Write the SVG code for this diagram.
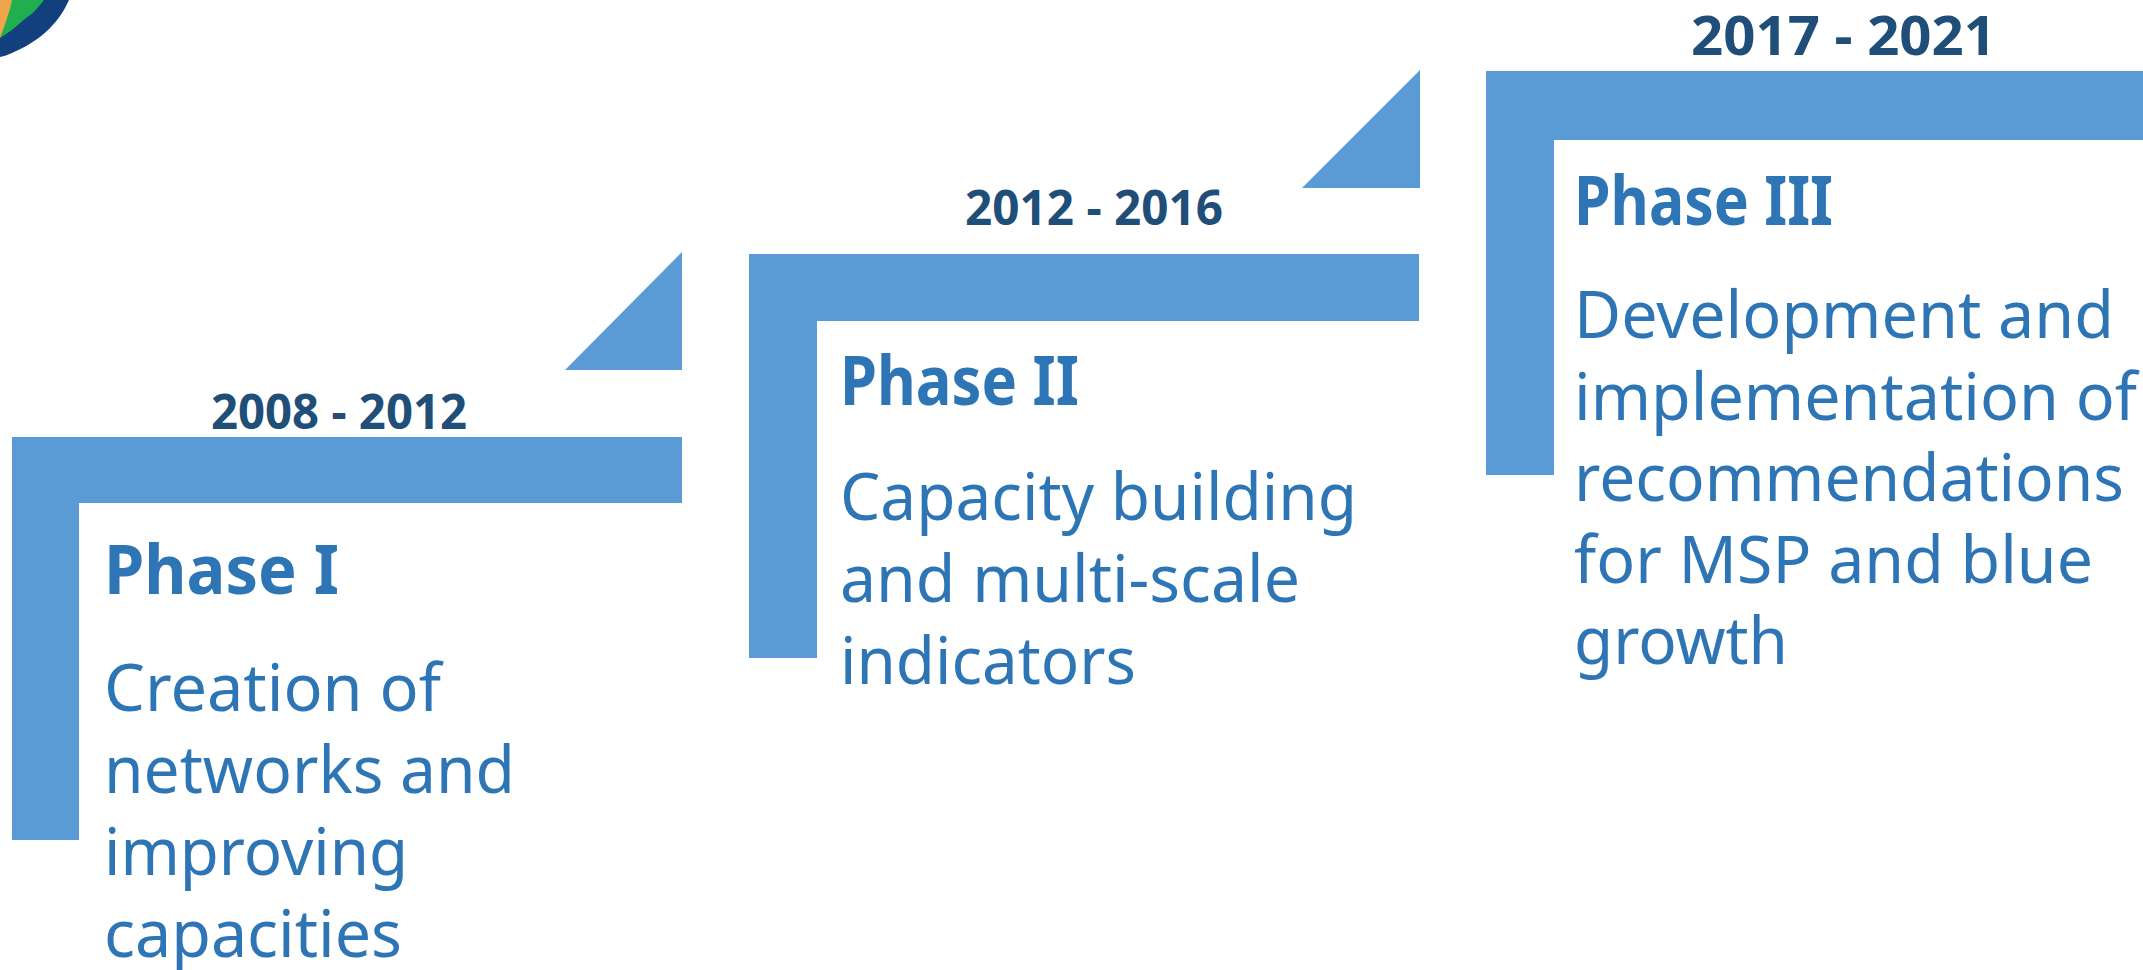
<svg xmlns="http://www.w3.org/2000/svg" width="2143" height="970" viewBox="0 0 2143 970">
<style>
.bar{fill:#5B9BD5}
text{font-family:"Noto Sans","Open Sans","Liberation Sans",sans-serif}
.date{fill:#1F4E79;font-weight:700}
.head{fill:#2E75B6;font-weight:700;font-size:68px}
.body{fill:#2E75B6;font-size:65px}
</style>
<rect width="2143" height="970" fill="#fff"/>
<g id="logo">
<path d="M0 0H69C58 25 38 42 12 53C8 55 4 56 0 57Z" fill="#123F7E"/>
<path d="M0 38C10 32 18 25 26 18C34 13 40 5 44 0H0Z" fill="#1FAF4F"/>
<path d="M0 38C6 22 10 10 12 0H0Z" fill="#F0A54A"/>
</g>
<g id="connectors"></g>
<g id="phase1">
<path class="bar" d="M12 437H682V503H79V840H12Z"/>
<polygon class="bar" points="682,252 682,370 565,370"/>
<text class="date" x="211" y="429" font-size="48" textLength="256" lengthAdjust="spacingAndGlyphs">2008 - 2012</text>
<text class="head" x="104" y="594" textLength="235" lengthAdjust="spacingAndGlyphs">Phase I</text>
<text class="body" x="104" y="711" textLength="337" lengthAdjust="spacingAndGlyphs">Creation of</text>
<text class="body" x="104" y="793" textLength="411" lengthAdjust="spacingAndGlyphs">networks and</text>
<text class="body" x="104" y="875" textLength="304" lengthAdjust="spacingAndGlyphs">improving</text>
<text class="body" x="104" y="957" textLength="298" lengthAdjust="spacingAndGlyphs">capacities</text>
</g>
<g id="phase2">
<path class="bar" d="M749 254H1419V321H817V658H749Z"/>
<polygon class="bar" points="1420,70 1420,188 1302,188"/>
<text class="date" x="965" y="225" font-size="48" textLength="258" lengthAdjust="spacingAndGlyphs">2012 - 2016</text>
<text class="head" x="840" y="405" textLength="239" lengthAdjust="spacingAndGlyphs">Phase II</text>
<text class="body" x="840" y="520" textLength="517" lengthAdjust="spacingAndGlyphs">Capacity building</text>
<text class="body" x="840" y="602" textLength="460" lengthAdjust="spacingAndGlyphs">and multi-scale</text>
<text class="body" x="840" y="684" textLength="296" lengthAdjust="spacingAndGlyphs">indicators</text>
</g>
<g id="phase3">
<path class="bar" d="M1486 71H2143V140H1554V475H1486Z"/>
<text class="date" x="1691" y="55" font-size="53" textLength="305" lengthAdjust="spacingAndGlyphs">2017 - 2021</text>
<text class="head" x="1574" y="225" textLength="259" lengthAdjust="spacingAndGlyphs">Phase III</text>
<text class="body" x="1574" y="338" textLength="540" lengthAdjust="spacingAndGlyphs">Development and</text>
<text class="body" x="1574" y="420" textLength="563" lengthAdjust="spacingAndGlyphs">implementation of</text>
<text class="body" x="1574" y="501" textLength="550" lengthAdjust="spacingAndGlyphs">recommendations</text>
<text class="body" x="1574" y="583" textLength="519" lengthAdjust="spacingAndGlyphs">for MSP and blue</text>
<text class="body" x="1574" y="664" textLength="214" lengthAdjust="spacingAndGlyphs">growth</text>
</g>
</svg>
